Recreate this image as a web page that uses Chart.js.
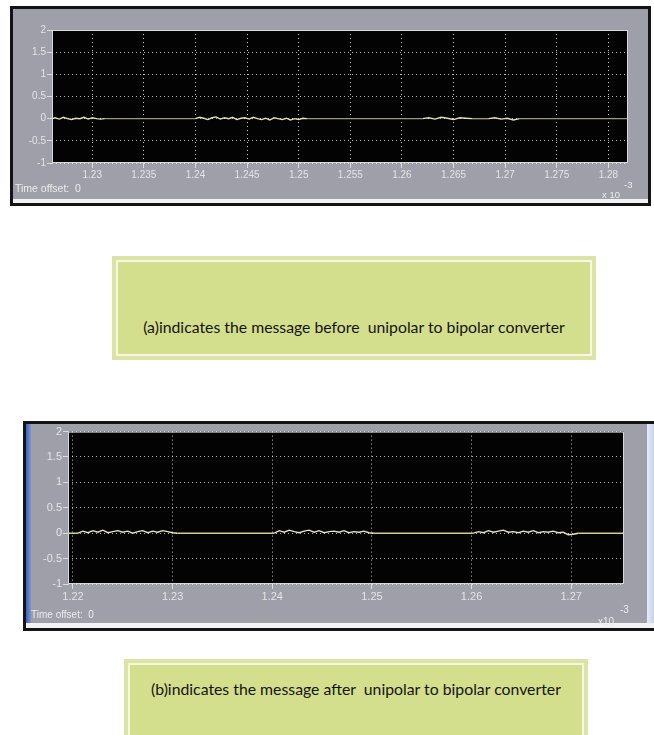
<!DOCTYPE html>
<html>
<head>
<meta charset="utf-8">
<script src="https://cdn.jsdelivr.net/npm/chart.js@4.4.1/dist/chart.umd.min.js"></script>
<style>
  html, body { margin: 0; padding: 0; background: #ffffff; }
  body { width: 654px; height: 735px; position: relative; overflow: hidden; font-family: "Liberation Sans", Arial, sans-serif; }
  .scope { position: absolute; box-sizing: border-box; background: #9f9faa; }
  #scopeA { left: 10px; top: 6px; width: 641px; height: 200px; border: 3px solid #141414; }
  #scopeB { left: 23px; top: 421px; width: 631px; height: 210px; border: 3px solid #141414; border-right: none; }
  .strip-bottom { position: absolute; left: 0; right: 0; bottom: 0; height: 4px; background: #f2f2f4; }
  .strip-blue { position: absolute; left: 0; top: 0; bottom: 0; width: 5px; background: linear-gradient(to right, #3f62b8, #7d95d2); }
  .strip-right { position: absolute; right: 0; top: 0; bottom: 0; width: 7px; background: linear-gradient(to right, #e8ecf6, #c5d2ee); }
  canvas { position: absolute; }
  .lbl { position: absolute; color: #ececec; white-space: nowrap; z-index: 2; }
  .caption { position: absolute; box-sizing: border-box; background: #d4df8d; border: 2px solid #f6f8e4; outline: 4px solid #dbe4a5; color: #141414; text-align: center; font-family: Lato, "Open Sans", sans-serif; }
</style>
</head>
<body>

<div id="scopeA" class="scope">
  <canvas id="chartA" width="635" height="186" style="left:0;top:0;width:635px;height:186px"></canvas>
  <div class="strip-bottom"></div>
  <span class="lbl" style="left:2px;top:173px;font-size:10.5px;">Time offset:&nbsp;&nbsp;0</span>
  <span class="lbl" style="left:589px;top:180px;font-size:9.5px;">x 10</span>
  <span class="lbl" style="left:611px;top:170px;font-size:9.5px;">-3</span>
</div>

<div id="scopeB" class="scope">
  <div class="strip-blue"></div>
  <canvas id="chartB" width="616" height="199" style="left:5px;top:0;width:616px;height:199px"></canvas>
  <div class="strip-right"></div>
  <div class="strip-bottom" style="height:5px"></div>
  <span class="lbl" style="left:5px;top:185px;font-size:10px;">Time offset:&nbsp;&nbsp;0</span>
  <span class="lbl" style="left:572px;top:192px;font-size:10px;">x10</span>
  <span class="lbl" style="left:594px;top:180px;font-size:10px;">-3</span>
</div>

<div class="caption" style="left:116px;top:260px;width:476px;height:96px;padding-top:55px;font-size:15.8px;">(a)indicates the message before&nbsp; unipolar to bipolar converter</div>
<div class="caption" style="left:128px;top:663px;width:456px;height:80px;padding-top:14px;font-size:15.8px;">(b)indicates the message after&nbsp; unipolar to bipolar converter</div>

<script>
// Scope (a): time in units of 1e-3, message level before conversion
const timeA = [
  1.2261, 1.2264, 1.2268, 1.2272, 1.2276, 1.2280, 1.2284, 1.2288, 1.2292, 1.2296, 1.2300, 1.2304, 1.2308, 1.2312,
  1.2400, 1.2404, 1.2408, 1.2412, 1.2416, 1.2420, 1.2424, 1.2428, 1.2432, 1.2436, 1.2440, 1.2444, 1.2448, 1.2452,
  1.2456, 1.2460, 1.2464, 1.2468, 1.2472, 1.2476, 1.2480, 1.2484, 1.2488, 1.2492, 1.2496, 1.2500, 1.2504, 1.2508,
  1.2620, 1.2626, 1.2632, 1.2638, 1.2644, 1.2650, 1.2656, 1.2662, 1.2668,
  1.2684, 1.2690, 1.2696, 1.2702, 1.2708, 1.2714,
  1.2819
];
const levelA = [
  0, 0.02, -0.01, 0.03, 0, -0.02, 0.01, 0, 0.03, -0.01, 0.02, 0, -0.01, 0,
  0, 0.03, 0.01, -0.02, 0.02, 0.04, -0.01, 0.02, 0, 0.03, -0.02, 0.01, 0.02, -0.01,
  0.03, 0, -0.02, 0.01, -0.03, 0.02, 0, -0.02, 0.01, -0.03, 0, -0.02, 0.01, 0,
  0, 0.02, -0.01, 0.03, 0.01, -0.02, 0.02, 0.01, 0,
  0, 0.02, -0.01, 0.01, -0.03, 0,
  0
];
const xLabelsA = ['1.23', '1.235', '1.24', '1.245', '1.25', '1.255', '1.26', '1.265', '1.27', '1.275', '1.28'];

// Scope (b): message level after conversion
const timeB = [
  1.2195,
  1.2205, 1.2210, 1.2215, 1.2220, 1.2225, 1.2230, 1.2235, 1.2240, 1.2245, 1.2250, 1.2255,
  1.2260, 1.2265, 1.2270, 1.2275, 1.2280, 1.2285, 1.2290, 1.2295, 1.2300, 1.2305,
  1.2402, 1.2407, 1.2412, 1.2417, 1.2422, 1.2427, 1.2432, 1.2437, 1.2442, 1.2447, 1.2452,
  1.2457, 1.2462, 1.2467, 1.2472, 1.2477, 1.2482, 1.2487, 1.2492, 1.2497, 1.2502,
  1.2602, 1.2607, 1.2612, 1.2617, 1.2622, 1.2627, 1.2632, 1.2637, 1.2642, 1.2647, 1.2652,
  1.2657, 1.2662, 1.2667, 1.2672, 1.2677, 1.2682, 1.2687, 1.2692, 1.2697, 1.2702, 1.2707,
  1.2753
];
const levelB = [
  0,
  0, 0.04, 0.01, 0.05, 0.02, 0.06, 0.01, 0.03, 0.05, 0.02, 0.04,
  0, 0.03, 0.05, 0.01, 0.04, 0.02, 0.05, 0.03, 0.01, 0,
  0, 0.05, 0.02, 0.06, 0.03, 0.01, 0.04, 0.06, 0.02, 0.05, 0.01,
  0.03, 0.04, 0.02, 0.05, 0.01, 0.03, 0.02, 0.04, 0.01, 0,
  0, 0.03, 0.01, 0.05, 0.02, 0.04, 0.06, 0.02, 0.03, 0.01, 0.04,
  0.02, 0.05, 0.01, 0.03, 0.02, 0.04, 0.01, 0.02, -0.03, -0.02, 0,
  0
];
const xLabelsB = ['1.22', '1.23', '1.24', '1.25', '1.26', '1.27'];

const yLabels = ['-1', '-0.5', '0', '0.5', '1', '1.5', '2'];

Chart.defaults.font.family = '"Liberation Sans", Arial, sans-serif';

// Black plot area with a light frame, like a scope display
const scopeFace = {
  id: 'scopeFace',
  beforeDraw(chart) {
    const { ctx, chartArea: a } = chart;
    ctx.save();
    ctx.fillStyle = '#030303';
    ctx.fillRect(a.left, a.top, a.right - a.left, a.bottom - a.top);
    ctx.restore();
  },
  afterDraw(chart) {
    const { ctx, chartArea: a } = chart;
    ctx.save();
    ctx.strokeStyle = '#d8d8d8';
    ctx.lineWidth = 1;
    ctx.strokeRect(a.left + 0.5, a.top + 0.5, a.right - a.left - 1, a.bottom - a.top - 1);
    ctx.restore();
  }
};

function scopeChart(id, times, levels, xLabels, xMin, xMax, opts) {
  const points = times.map((t, i) => ({ x: t, y: levels[i] }));
  const xValues = xLabels.map(Number);
  const yValues = yLabels.map(Number);
  return new Chart(document.getElementById(id), {
    type: 'line',
    data: {
      datasets: [{
        data: points,
        borderColor: opts.base,
        borderWidth: 1.4,
        pointRadius: 0,
        tension: 0,
        segment: {
          borderColor: c => (c.p0.parsed.y !== 0 || c.p1.parsed.y !== 0) ? opts.burst : opts.base
        }
      }]
    },
    options: {
      responsive: false,
      animation: false,
      devicePixelRatio: 1,
      layout: { padding: { top: opts.padTop, right: opts.padRight, left: 0, bottom: 0 } },
      plugins: { legend: { display: false }, tooltip: { enabled: false } },
      scales: {
        x: {
          type: 'linear',
          min: xMin,
          max: xMax,
          afterBuildTicks: s => { s.ticks = xValues.map(v => ({ value: v })); },
          afterFit: s => { s.height = opts.xHeight; },
          ticks: {
            autoSkip: false, maxRotation: 0, padding: 1,
            color: '#e4e4e4', font: { size: opts.fontSize },
            callback: (v, i) => xLabels[i]
          },
          grid: {
            color: 'rgba(235,235,235,0.85)', lineWidth: 1,
            drawTicks: true, tickLength: 5, tickColor: '#dcdcdc', tickBorderDash: []
          },
          border: { display: false, dash: [1, 3] }
        },
        y: {
          min: -1,
          max: 2,
          afterBuildTicks: s => { s.ticks = yValues.map(v => ({ value: v })); },
          afterFit: s => { s.width = opts.yWidth; },
          ticks: {
            autoSkip: false, padding: 1,
            color: '#e4e4e4', font: { size: opts.fontSize },
            callback: (v, i) => yLabels[i]
          },
          grid: {
            color: 'rgba(235,235,235,0.75)', lineWidth: 1,
            drawTicks: true, tickLength: 5, tickColor: '#dcdcdc', tickBorderDash: []
          },
          border: { display: false, dash: [1, 3] }
        }
      }
    },
    plugins: [scopeFace]
  });
}

scopeChart('chartA', timeA, levelA, xLabelsA, 1.2261, 1.2819, {
  base: '#9c9a72', burst: '#e2dfb4',
  padTop: 21, padRight: 20, xHeight: 32, yWidth: 39, fontSize: 10
});

scopeChart('chartB', timeB, levelB, xLabelsB, 1.2195, 1.2753, {
  base: '#d3cd92', burst: '#e8e4c2',
  padTop: 7, padRight: 23, xHeight: 39, yWidth: 37, fontSize: 11
});
</script>
</body>
</html>
